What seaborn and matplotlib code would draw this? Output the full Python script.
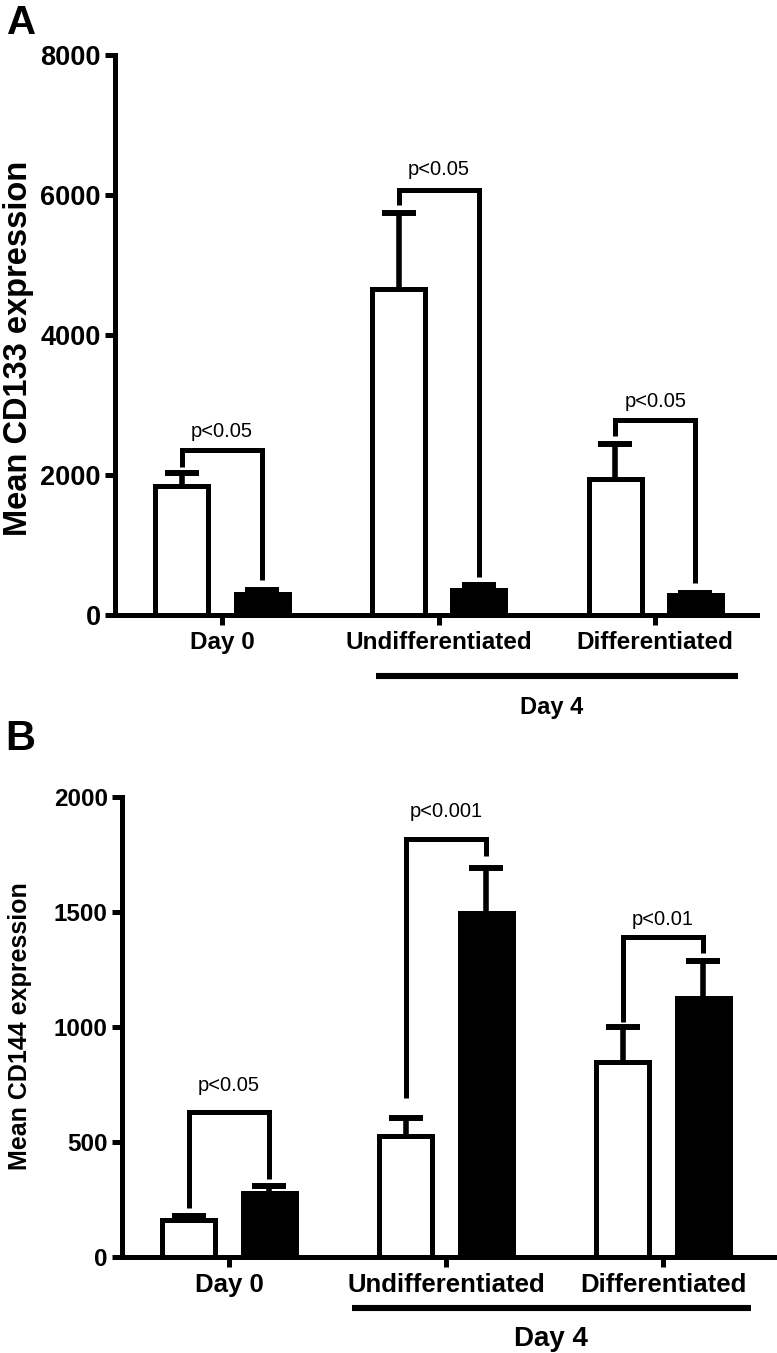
import numpy as np
import pandas as pd
import matplotlib
matplotlib.use('Agg')
import matplotlib.pyplot as plt
import matplotlib.transforms as mtransforms
import seaborn as sns

# data
groups = ['Day 0', 'Undifferentiated', 'Differentiated']
conditions = ['open', 'solid']

cd133_open = [1850, 4660, 1950]
cd133_open_err = [2030, 5750, 2450]
cd133_solid = [300, 360, 290]
cd133_solid_err = [360, 425, 320]
cd133_br_top = [2357, 6071, 2786]
cd133_br_left = [2114, 5857, 2557]
cd133_br_right = [500, 543, 457]
cd133_p = ['p<0.05', 'p<0.05', 'p<0.05']
cd133_ticks = [0, 2000, 4000, 6000, 8000]

cd144_open = [160, 525, 850]
cd144_open_err = [180, 605, 1000]
cd144_solid = [280, 1495, 1125]
cd144_solid_err = [310, 1690, 1285]
cd144_br_top = [630, 1817, 1393]
cd144_br_left = [213, 691, 1022]
cd144_br_right = [339, 1743, 1322]
cd144_p = ['p<0.05', 'p<0.001', 'p<0.01']
cd144_ticks = [0, 500, 1000, 1500, 2000]

sns.set_style('ticks')
plt.rcParams['font.family'] = ['Liberation Sans', 'DejaVu Sans']
plt.rcParams.update({'text.color': 'black', 'axes.labelcolor': 'black',
                     'xtick.color': 'black', 'ytick.color': 'black',
                     'axes.edgecolor': 'black'})

LW = 3.6


def draw_panel(ax, open_v, open_e, solid_v, solid_e, br_top, br_left, br_right,
               plabels, p_offsets, yticks, ylim, xlim, tick_fs, xlab_fs):
    df = pd.DataFrame({
        'group': groups * 2,
        'cond': ['open'] * 3 + ['solid'] * 3,
        'value': open_v + solid_v,
    })
    sns.barplot(data=df, x='group', y='value', hue='cond', hue_order=conditions,
                palette=['white', 'black'], edgecolor='black', linewidth=LW,
                width=0.74, gap=0.34, errorbar=None, legend=False,
                saturation=1, ax=ax)

    centers = {}
    for cond, cont in zip(conditions, ax.containers):
        centers[cond] = [b.get_x() + b.get_width() / 2 for b in cont]

    # error bars, upper side only
    for cond, vals, tops in [('open', open_v, open_e), ('solid', solid_v, solid_e)]:
        vals = np.array(vals, dtype=float)
        tops = np.array(tops, dtype=float)
        _, caps, _ = ax.errorbar(centers[cond], vals, yerr=[np.zeros(3), tops - vals],
                                 fmt='none', ecolor='black', elinewidth=4,
                                 capsize=11.9, capthick=4.3, zorder=4)
        for c in caps:
            if np.allclose(c.get_ydata(), vals):
                c.set_visible(False)

    # significance brackets
    for i in range(3):
        xl = centers['open'][i]
        xr = centers['solid'][i]
        ax.plot([xl, xl, xr, xr], [br_left[i], br_top[i], br_top[i], br_right[i]],
                color='black', lw=LW, solid_joinstyle='miter',
                solid_capstyle='butt', zorder=5, clip_on=False)
        ax.annotate(plabels[i], ((xl + xr) / 2, br_top[i]), xytext=(0, p_offsets[i]),
                    textcoords='offset points', ha='center', va='center',
                    fontsize=14.5, color='black')

    ax.set_xlim(*xlim)
    ax.set_ylim(*ylim)
    ax.set_yticks(yticks)
    ax.set_yticklabels([str(t) for t in yticks], fontsize=tick_fs, fontweight='bold')
    ax.set_xticks(range(3))
    ax.set_xticklabels(groups, fontsize=xlab_fs, fontweight='bold')
    ax.set_xlabel('')
    ax.set_ylabel('')
    sns.despine(ax=ax)
    for s in ['left', 'bottom']:
        ax.spines[s].set_linewidth(LW)
        ax.spines[s].set_color('black')
    ax.tick_params(axis='both', length=7.2, width=LW, pad=3, color='black',
                   labelcolor='black')
    ax.tick_params(axis='x', pad=4)


fig = plt.figure(figsize=(7.77, 13.53), dpi=100)
H = 1353.0
W = 777.0

axA = fig.add_axes([115 / W, 1 - 615 / H, 642 / W, 560 / H])
draw_panel(axA, cd133_open, cd133_open_err, cd133_solid, cd133_solid_err,
           cd133_br_top, cd133_br_left, cd133_br_right, cd133_p,
           [13.5, 14.5, 13.5], cd133_ticks, (0, 8000), (-0.494, 2.47), 19.5, 17.5)

axB = fig.add_axes([122 / W, 1 - 1257 / H, 655 / W, 460 / H])
draw_panel(axB, cd144_open, cd144_open_err, cd144_solid, cd144_solid_err,
           cd144_br_top, cd144_br_left, cd144_br_right, cd144_p,
           [19.5, 20, 12.5], cd144_ticks, (0, 2000), (-0.493, 2.525), 17.5, 18.5)

# "Day 4" underline groups
for ax, x0, x1, yl, xt, yt, fs in [(axA, 0.71, 2.383, -0.109, 1.52, -0.166, 17),
                                   (axB, 0.567, 2.405, -0.111, 1.484, -0.178, 20)]:
    tr = mtransforms.blended_transform_factory(ax.transData, ax.transAxes)
    ax.plot([x0, x1], [yl, yl], color='black', lw=4.4, transform=tr,
            clip_on=False, solid_capstyle='butt')
    ax.text(xt, yt, 'Day 4', transform=tr, ha='center', va='center',
            fontsize=fs, fontweight='bold', color='black')

# y labels and panel letters
fig.text(19 / W, 1 - 348 / H, 'Mean CD133 expression', rotation=90,
         ha='center', va='center', fontsize=23.5, fontweight='bold', color='black')
fig.text(20 / W, 1 - 1026 / H, 'Mean CD144 expression', rotation=90,
         ha='center', va='center', fontsize=18, fontweight='bold', color='black')
fig.text(7 / W, 1 - 4 / H, 'A', ha='left', va='top', fontsize=29,
         fontweight='bold', color='black')
fig.text(5 / W, 1 - 719 / H, 'B', ha='left', va='top', fontsize=30,
         fontweight='bold', color='black')

fig.savefig('out.png', dpi=100)
